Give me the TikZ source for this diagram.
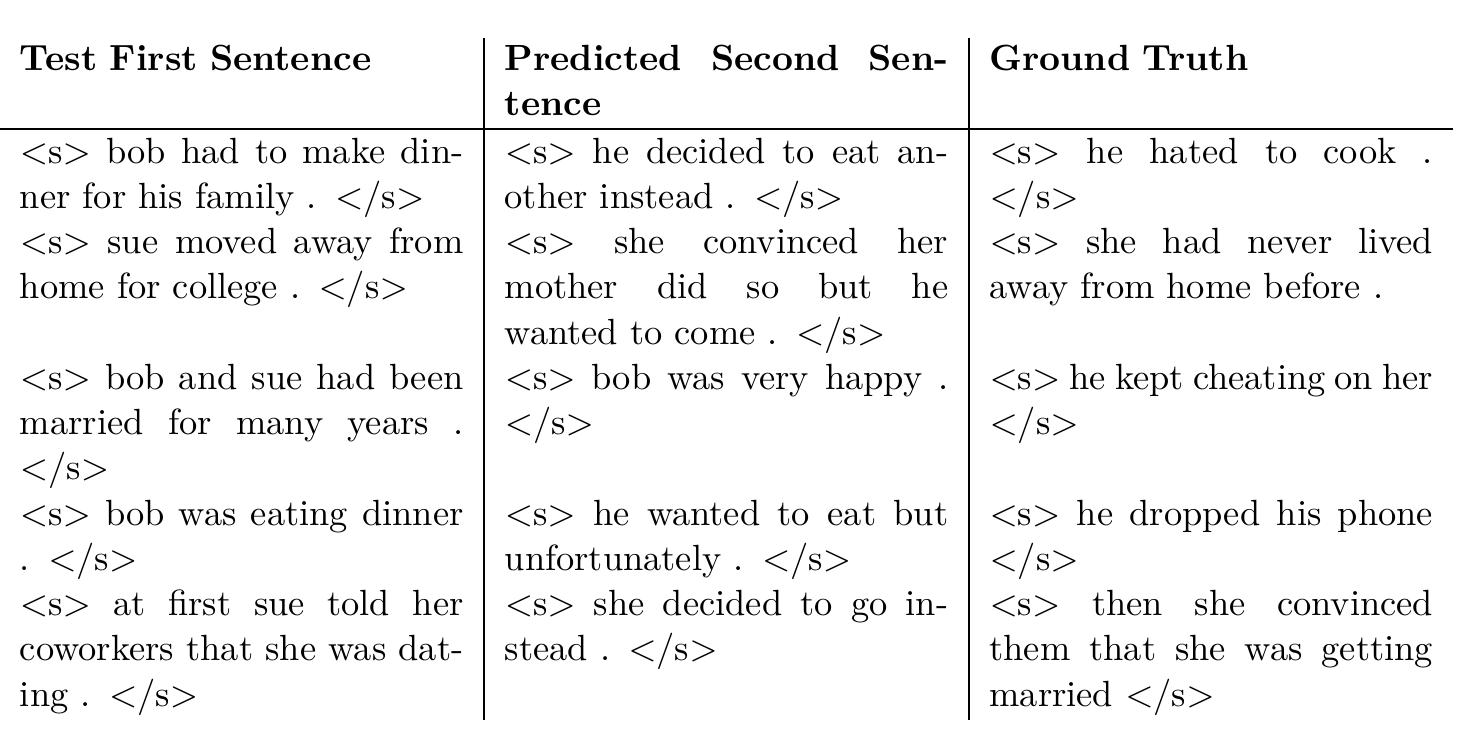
\documentclass[tikz,border=0pt]{standalone}
\usepackage{tikz}

\newcommand{\bos}{$<$s$>$}
\newcommand{\eos}{$<$/s$>$}
\newcommand{\justline}[1]{\leavevmode\hbox to 133.3pt{\spaceskip=\fontdimen2\font plus .5\fontdimen2\font minus .3333\fontdimen2\font #1}}

\begin{document}
\begin{tikzpicture}[x=1pt,y=1pt,
	cell/.style={anchor=base west,inner sep=0pt,outer sep=0pt,text width=133.3pt,align=left,font={\fontsize{10.95pt}{13.6pt}\selectfont}},
	headcell/.style={cell,font={\fontsize{10.95pt}{13.6pt}\selectfont\bfseries}},
	tablerule/.style={line width=0.4pt,black}]

	% Fix the page size
	\useasboundingbox (0,0) rectangle (441.2,-225.4);

	% Rule below the header row
	\coordinate (hruleL) at (0,-38.77);
	\coordinate (hruleR) at (436.7,-38.77);
	\draw[tablerule] (hruleL) -- (hruleR);

	% Column separators
	\coordinate (sepAtop) at (145.5,-11.4);
	\coordinate (sepAbot) at (145.5,-216.3);
	\coordinate (sepBtop) at (291.2,-11.4);
	\coordinate (sepBbot) at (291.2,-216.3);
	\draw[tablerule] (sepAtop) -- (sepAbot);
	\draw[tablerule] (sepBtop) -- (sepBbot);

	% Header row
	\node[headcell] (firstHead) at (6,-21.04) {Test First Sentence};
	\node[headcell] (predHead) at (151.7,-21.04) {\justline{Predicted Second Sen-}\\ tence};
	\node[headcell] (truthHead) at (297.4,-21.04) {Ground Truth};

	% Test first sentences
	\node[cell] (first1) at (6,-49.0) {\justline{\bos{} bob had to make din-}\\ ner for his family . \eos};
	\node[cell] (first2) at (6,-76.2) {\justline{\bos{} sue moved away from}\\ home for college . \eos};
	\node[cell] (first3) at (6,-117.0) {\justline{\bos{} bob and sue had been}\\ \justline{married for many years .}\\ \eos};
	\node[cell] (first4) at (6,-157.8) {\justline{\bos{} bob was eating dinner}\\ . \eos};
	\node[cell] (first5) at (6,-185.0) {\justline{\bos{} at first sue told her}\\ \justline{coworkers that she was dat-}\\ ing . \eos};

	% Predicted second sentences
	\node[cell] (pred1) at (151.7,-49.0) {\justline{\bos{} he decided to eat an-}\\ other instead . \eos};
	\node[cell] (pred2) at (151.7,-76.2) {\justline{\bos{} she convinced her}\\ \justline{mother did so but he}\\ wanted to come . \eos};
	\node[cell] (pred3) at (151.7,-117.0) {\justline{\bos{} bob was very happy .}\\ \eos};
	\node[cell] (pred4) at (151.7,-157.8) {\justline{\bos{} he wanted to eat but}\\ unfortunately . \eos};
	\node[cell] (pred5) at (151.7,-185.0) {\justline{\bos{} she decided to go in-}\\ stead . \eos};

	% Ground truth
	\node[cell] (truth1) at (297.4,-49.0) {\justline{\bos{} he hated to cook .}\\ \eos};
	\node[cell] (truth2) at (297.4,-76.2) {\justline{\bos{} she had never lived}\\ away from home before .};
	\node[cell] (truth3) at (297.4,-117.0) {\justline{\bos{} he kept cheating on her}\\ \eos};
	\node[cell] (truth4) at (297.4,-157.8) {\justline{\bos{} he dropped his phone}\\ \eos};
	\node[cell] (truth5) at (297.4,-185.0) {\justline{\bos{} then she convinced}\\ \justline{them that she was getting}\\ married \eos};

\end{tikzpicture}
\end{document}
